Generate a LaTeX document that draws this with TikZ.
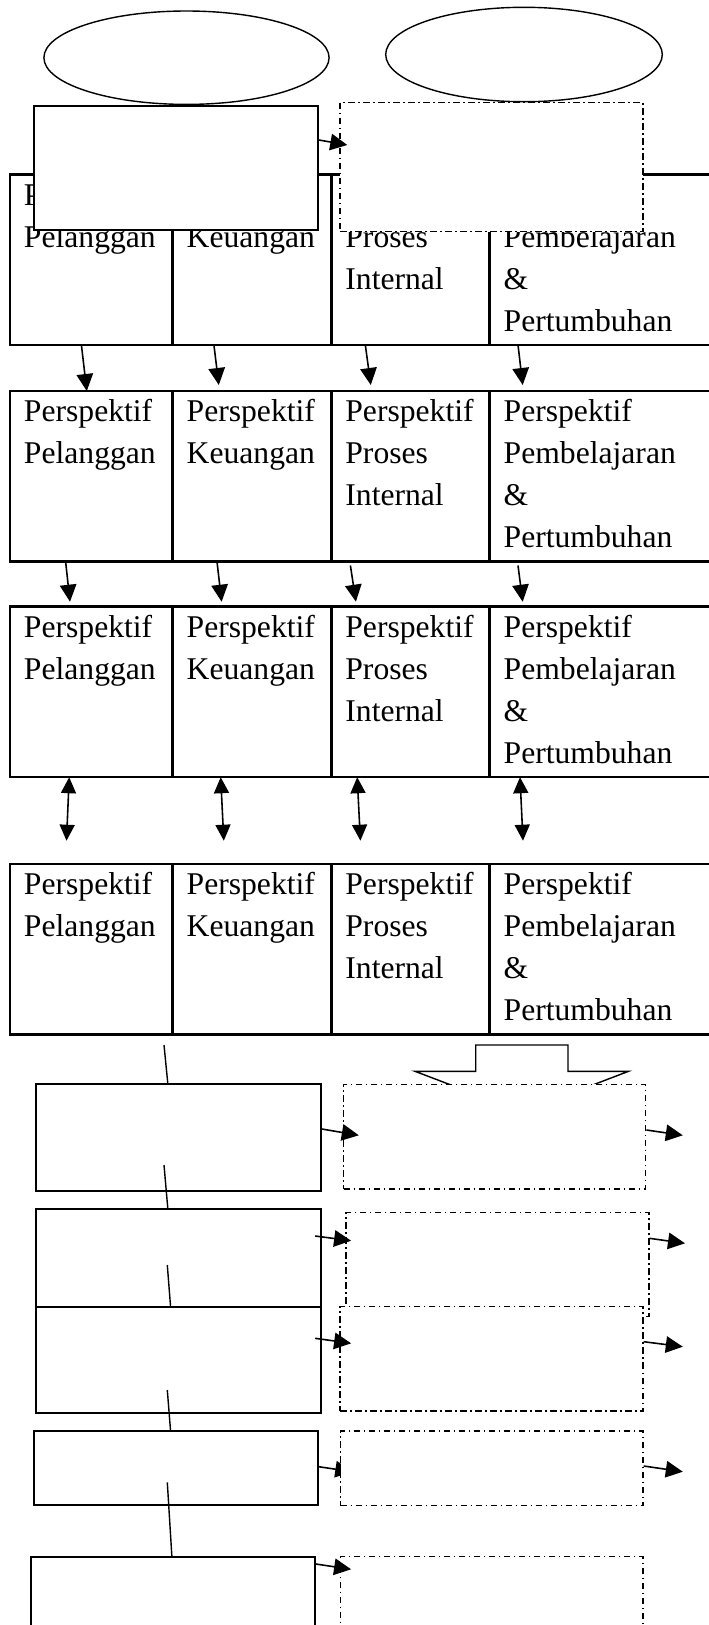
\documentclass[tikz,border=0pt]{standalone}
\usepackage{fontspec}
\setmainfont{Liberation Serif}
\usepackage{tikz}
\usetikzlibrary{shapes.geometric,arrows.meta,positioning,backgrounds}
\hyphenpenalty=10000

\begin{document}
\begin{tikzpicture}[
  cell/.style={draw, line width=1.4pt, outer sep=0pt, inner xsep=0.28cm, inner ysep=0pt, align=left,
    text height=0.614cm, text depth=2.796cm, font=\fontsize{18}{23.9}\selectfont},
  colA/.style={cell, text width=2.694cm},
  colB/.style={cell, text width=2.614cm},
  colC/.style={cell, text width=2.606cm},
  colD/.style={cell, text width=4.446cm},
  oval/.style={draw, ellipse, line width=0.8pt, inner sep=0pt},
  box/.style={draw, fill=white, line width=1pt, inner sep=0pt},
  dbox/.style={box, line width=0.8pt, dash pattern=on 0.13cm off 0.07cm on 0.03cm off 0.07cm},
  arrow/.style={-{Triangle[length=0.34cm,width=0.33cm]}, line width=0.9pt},
  biarrow/.style={{Triangle[length=0.32cm,width=0.3cm]}-{Triangle[length=0.32cm,width=0.3cm]}, line width=0.9pt},
  link/.style={line width=0.8pt}
]
  \useasboundingbox (0,0) rectangle (14.18,-32.5);

  \node[oval, minimum width=5.704cm, minimum height=1.868cm] (e1) at (3.73,-1.154) {};
  \node[oval, minimum width=5.532cm, minimum height=1.888cm] (e2) at (10.48,-1.09) {};

  \node[colA, anchor=north west] (r1a) at (0.2,-3.486) {Perspektif\\Pelanggan};
  \node[colB, right=0cm of r1a] (r1b) {Perspektif\\Keuangan};
  \node[colC, right=0cm of r1b] (r1c) {Perspektif\\Proses\\Internal};
  \node[colD, right=0cm of r1c] (r1d) {Perspektif\\Pembelajaran\\\&\\Pertumbuhan};

  \node[box, minimum width=5.68cm, minimum height=2.48cm] (t1) at (3.52,-3.36) {};
  \node[dbox, minimum width=6.06cm, minimum height=2.58cm] (t2) at (9.83,-3.344) {};

  \node[colA, anchor=north west] (r2a) at (0.2,-7.82) {Perspektif\\Pelanggan};
  \node[colB, right=0cm of r2a] (r2b) {Perspektif\\Keuangan};
  \node[colC, right=0cm of r2b] (r2c) {Perspektif\\Proses\\Internal};
  \node[colD, right=0cm of r2c] (r2d) {Perspektif\\Pembelajaran\\\&\\Pertumbuhan};

  \node[colA, anchor=north west] (r3a) at (0.2,-12.134) {Perspektif\\Pelanggan};
  \node[colB, right=0cm of r3a] (r3b) {Perspektif\\Keuangan};
  \node[colC, right=0cm of r3b] (r3c) {Perspektif\\Proses\\Internal};
  \node[colD, right=0cm of r3c] (r3d) {Perspektif\\Pembelajaran\\\&\\Pertumbuhan};

  \node[colA, anchor=north west] (r4a) at (0.2,-17.28) {Perspektif\\Pelanggan};
  \node[colB, right=0cm of r4a] (r4b) {Perspektif\\Keuangan};
  \node[colC, right=0cm of r4b] (r4c) {Perspektif\\Proses\\Internal};
  \node[colD, right=0cm of r4c] (r4d) {Perspektif\\Pembelajaran\\\&\\Pertumbuhan};

  \draw[line width=0.8pt, fill=white] (9.514,-20.9) -- (11.36,-20.9) -- (11.36,-21.426) -- (12.57,-21.426)
    -- (10.44,-22.24) -- (8.3,-21.426) -- (9.514,-21.426) -- cycle;

  \node[box, minimum width=5.696cm, minimum height=2.134cm] (b1) at (3.572,-22.753) {};
  \node[box, minimum width=5.696cm, minimum height=2.134cm] (b2) at (3.572,-25.253) {};
  \node[box, minimum width=5.696cm, minimum height=2.12cm] (b3) at (3.572,-27.194) {};
  \node[box, minimum width=5.68cm, minimum height=1.48cm] (b4) at (3.518,-29.36) {};
  \node[box, minimum width=5.686cm, minimum height=2.1cm, anchor=north] (b5) at (3.457,-31.12) {};

  \node[dbox, minimum width=6.042cm, minimum height=2.094cm] (d1) at (9.893,-22.733) {};
  \node[dbox, minimum width=6.058cm, minimum height=2.088cm] (d2) at (9.947,-25.29) {};
  \node[dbox, minimum width=6.06cm, minimum height=2.086cm] (d3) at (9.83,-27.177) {};
  \node[dbox, minimum width=6.05cm, minimum height=1.494cm] (d4) at (9.835,-29.367) {};
  \node[dbox, minimum width=6.05cm, minimum height=2.1cm, anchor=north] (d5) at (9.835,-31.12) {};

  \coordinate (s1) at (3.28,-20.9);
  \coordinate (s2) at (3.28,-23.3);
  \coordinate (s3) at (3.346,-25.3);
  \coordinate (s4) at (3.346,-27.8);
  \coordinate (s5) at (3.346,-29.646);
  \coordinate (o1) at (13.656,-22.706);
  \coordinate (o2) at (13.7,-24.866);
  \coordinate (o3) at (13.656,-26.934);
  \coordinate (o4) at (13.656,-29.434);

  \draw[arrow] ([yshift=0.56cm]t1.east) -- ([xshift=0.16cm,yshift=0.444cm]t2.west);

  \draw[arrow] ([xshift=1.428cm]r1a.south west) -- ([xshift=1.536cm]r2a.north west);
  \draw[arrow] ([xshift=0.824cm]r1b.south west) -- ([xshift=0.922cm,yshift=0.12cm]r2b.north west);
  \draw[arrow] ([xshift=0.678cm]r1c.south west) -- ([xshift=0.788cm,yshift=0.12cm]r2c.north west);
  \draw[arrow] ([xshift=0.566cm]r1d.south west) -- ([xshift=0.66cm,yshift=0.12cm]r2d.north west);

  \draw[arrow] ([xshift=1.112cm]r2a.south west) -- ([xshift=1.2cm,yshift=0.1cm]r3a.north west);
  \draw[arrow] ([xshift=0.886cm]r2b.south west) -- ([xshift=0.978cm,yshift=0.1cm]r3b.north west);
  \draw[arrow] ([xshift=0.38cm,yshift=-0.08cm]r2c.south west) -- ([xshift=0.49cm,yshift=0.1cm]r3c.north west);
  \draw[arrow] ([xshift=0.566cm,yshift=-0.08cm]r2d.south west) -- ([xshift=0.66cm,yshift=0.1cm]r3d.north west);

  \draw[biarrow] ([xshift=1.184cm]r3a.south west) -- ([xshift=1.13cm,yshift=0.466cm]r4a.north west);
  \draw[biarrow] ([xshift=0.96cm]r3b.south west) -- ([xshift=1.022cm,yshift=0.466cm]r4b.north west);
  \draw[biarrow] ([xshift=0.516cm]r3c.south west) -- ([xshift=0.58cm,yshift=0.466cm]r4c.north west);
  \draw[biarrow] ([xshift=0.606cm]r3d.south west) -- ([xshift=0.666cm,yshift=0.466cm]r4d.north west);

  \draw[link] (s1) -- ([xshift=-0.216cm]b1.north);
  \draw[link] (s2) -- ([xshift=-0.216cm]b2.north);
  \draw[link] (s3) -- ([xshift=-0.162cm]b3.north);
  \draw[link] (s4) -- ([xshift=-0.108cm]b4.north);
  \draw[link] (s5) -- ([xshift=-0.02cm]b5.north);

  \draw[arrow] ([yshift=0.173cm]b1.east) -- ([xshift=0.318cm,yshift=0.027cm]d1.west);
  \draw[arrow] ([yshift=0.133cm]d1.east) -- (o1);
  \draw[arrow] ([xshift=-0.134cm,yshift=0.533cm]b2.east) -- ([xshift=0.118cm,yshift=0.476cm]d2.west);
  \draw[arrow] ([yshift=0.524cm]d2.east) -- (o2);
  \draw[arrow] ([xshift=-0.134cm,yshift=0.428cm]b3.east) -- ([xshift=0.236cm,yshift=0.311cm]d3.west);
  \draw[arrow] ([yshift=0.343cm]d3.east) -- (o3);
  \begin{scope}[on background layer]
    \draw[arrow] ([yshift=0.026cm]b4.east) -- ([xshift=0.25cm,yshift=-0.067cm]d4.west);
  \end{scope}
  \draw[arrow] ([yshift=0.047cm]d4.east) -- (o4);
  \draw[arrow] ([yshift=-0.16cm]b5.north east) -- ([xshift=0.226cm,yshift=-0.266cm]d5.north west);
\end{tikzpicture}
\end{document}
